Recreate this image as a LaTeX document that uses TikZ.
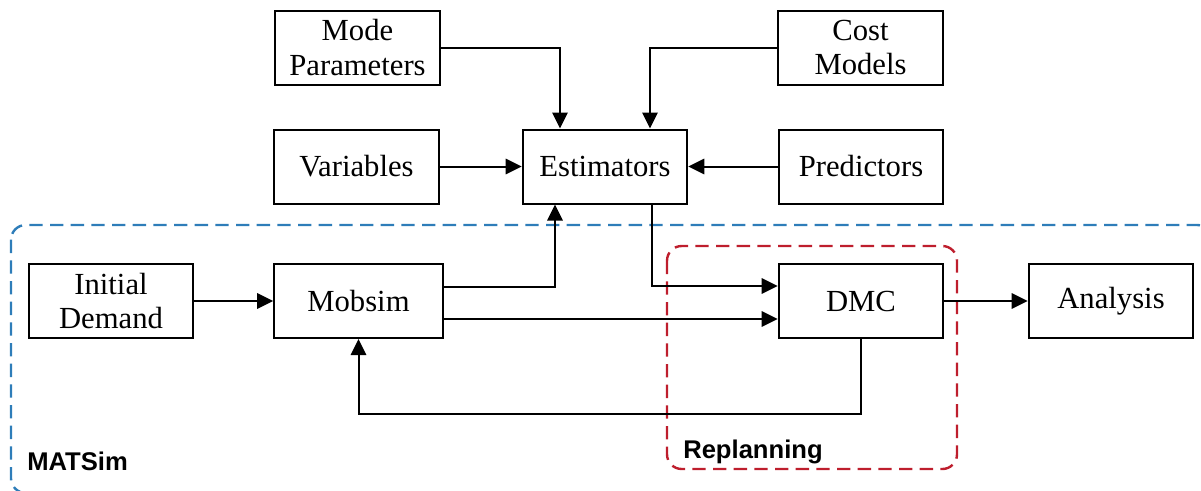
\documentclass[tikz,border=0pt]{standalone}
\usepackage{fontspec}
\setmainfont{Liberation Serif}
\newfontfamily\labfont{Liberation Sans}
\usetikzlibrary{arrows.meta,calc}
\definecolor{matblue}{RGB}{46,125,185}
\definecolor{repred}{RGB}{190,30,45}
\begin{document}
\begin{tikzpicture}[x=0.75pt,y=-0.75pt,
  box/.style={draw,line width=1.5pt,minimum width=123.5pt,minimum height=55.5pt,align=center,inner sep=2pt,font=\fontsize{23}{26}\selectfont},
  arr/.style={line width=1.5pt,-{Triangle[length=12pt,width=11.5pt]}},
  ln/.style={line width=1.5pt},
  grp/.style={line width=1.8pt,dash pattern=on 10pt off 5.5pt,rounded corners=11pt},
  lab/.style={font=\labfont\bfseries\fontsize{19.2}{22}\selectfont,anchor=base west,inner sep=0pt}]
\useasboundingbox (0,0) rectangle (1201,490);
\draw[grp,matblue] (11,225) rectangle (1212,493);
\draw[grp,repred] (667,246) rectangle (957,469);
\node[box] (mode) at (357.5,47.5) {Mode\\Parameters};
\node[box] (cost) at (860.5,47.5) {Cost\\Models};
\node[box] (var) at (356.5,166.5) {Variables};
\node[box] (est) at (605,166.5) {Estimators};
\node[box] (pred) at (861,166.5) {Predictors};
\node[box] (init) at (111,301) {Initial\\Demand};
\node[box,minimum width=126.5pt] (mob) at (358.5,301) {Mobsim};
\node[box] (dmc) at (861,301) {DMC};
\node[box] (ana) at (1111,301) {Analysis};
\node[lab] (matsim) at (27,470) {MATSim};
\node[lab] (repl) at (683,458) {Replanning};
\draw[arr] (mode.east) -| ($(est.north)+(-45,0)$);
\draw[arr] (cost.west) -| ($(est.north)+(45,0)$);
\draw[arr] (var.east) -- (est.west);
\draw[arr] (pred.west) -- (est.east);
\draw[arr] (init.east) -- (mob.west);
\draw[arr] ($(mob.east)+(0,-14)$) -| ($(est.south)+(-50,0)$);
\draw[arr] ($(est.south)+(47,0)$) |- ($(dmc.west)+(0,-15)$);
\draw[arr] ($(mob.east)+(0,18)$) -- ($(dmc.west)+(0,18)$);
\draw[arr] (dmc.east) -- (ana.west);
\draw[arr] (dmc.south) -- ++(0,75) -| (mob.south);
\end{tikzpicture}
\end{document}
